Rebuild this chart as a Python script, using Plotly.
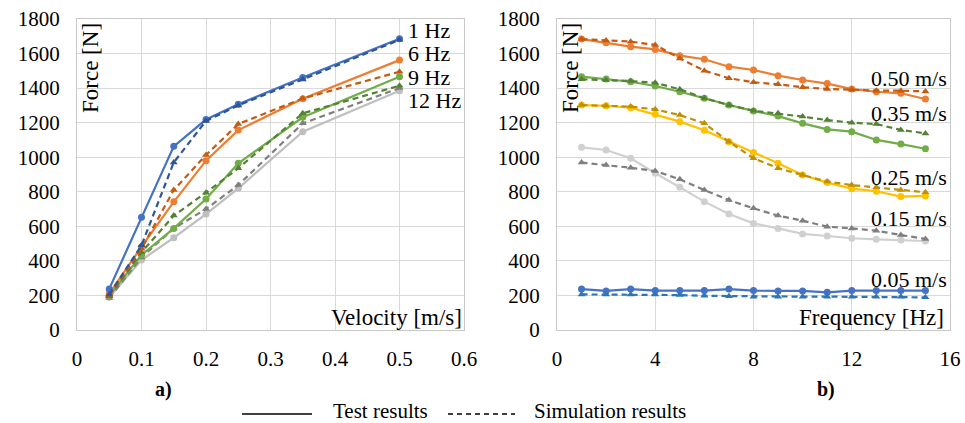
import plotly.graph_objects as go

W, H = 965, 423

# ---------------- data: left panel (force vs velocity) ----------------
velocity = [0.05, 0.1, 0.15, 0.2, 0.25, 0.35, 0.5]
hz1_test = [238, 652, 1063, 1218, 1306, 1461, 1686]
hz1_sim = [205, 490, 970, 1210, 1300, 1450, 1680]
hz6_test = [210, 482, 742, 980, 1157, 1339, 1562]
hz6_sim = [200, 470, 810, 1013, 1192, 1340, 1495]
hz9_test = [200, 434, 588, 758, 965, 1231, 1466]
hz9_sim = [195, 450, 662, 795, 936, 1254, 1414]
hz12_test = [190, 405, 534, 671, 820, 1148, 1385]
hz12_sim = [185, 420, 588, 700, 839, 1196, 1400]
left_labels = ["1 Hz", "6 Hz", "9 Hz", "12 Hz"]

# ---------------- data: right panel (force vs frequency) ----------------
frequency = list(range(1, 16))
v050_test = [1684, 1663, 1640, 1624, 1588, 1567, 1524, 1505, 1472, 1447, 1426, 1395, 1379, 1370, 1337]
v050_sim = [1684, 1675, 1669, 1650, 1572, 1501, 1457, 1434, 1422, 1405, 1395, 1391, 1385, 1385, 1381]
v035_test = [1466, 1453, 1437, 1412, 1379, 1341, 1302, 1268, 1238, 1196, 1161, 1148, 1100, 1076, 1049]
v035_sim = [1451, 1447, 1441, 1431, 1393, 1341, 1302, 1269, 1254, 1235, 1215, 1200, 1192, 1158, 1138]
v025_test = [1302, 1298, 1287, 1248, 1206, 1156, 1090, 1028, 965, 897, 853, 818, 803, 772, 776]
v025_sim = [1302, 1298, 1293, 1277, 1244, 1196, 1090, 994, 936, 897, 859, 839, 826, 810, 797]
v015_test = [1057, 1042, 994, 907, 826, 743, 671, 617, 588, 556, 544, 531, 525, 521, 515]
v015_sim = [969, 955, 939, 920, 872, 810, 752, 704, 662, 633, 598, 588, 575, 550, 527]
v005_test = [237, 226, 237, 228, 228, 228, 237, 228, 226, 226, 218, 228, 228, 228, 228]
v005_sim = [206, 206, 206, 206, 202, 198, 196, 193, 193, 193, 193, 193, 193, 193, 189]
right_labels = ["0.50 m/s", "0.35 m/s", "0.25 m/s", "0.15 m/s", "0.05 m/s"]

x_ticks_left = [0, 0.1, 0.2, 0.3, 0.4, 0.5, 0.6]
x_ticks_right = [0, 4, 8, 12, 16]
y_ticks = list(range(0, 1801, 200))

FONT = "Liberation Serif, Times New Roman, DejaVu Serif, serif"


def px(x):
    return x / W


def py(y):
    return 1 - y / H


fig = go.Figure()


def add_pair(x, test, sim, c_test, c_sim, xa, ya):
    fig.add_trace(go.Scatter(x=x, y=test, mode="lines+markers", xaxis=xa, yaxis=ya,
                             line=dict(color=c_test, width=2.2),
                             marker=dict(symbol="circle", size=7, color=c_test),
                             showlegend=False, cliponaxis=False))
    fig.add_trace(go.Scatter(x=x, y=sim, mode="lines+markers", xaxis=xa, yaxis=ya,
                             line=dict(color=c_sim, width=2.2, dash="6px,4px"),
                             marker=dict(symbol="triangle-up", size=7, color=c_sim),
                             showlegend=False, cliponaxis=False))


# left panel (draw order so that blue is on top)
add_pair(velocity, hz12_test, hz12_sim, "#BFBFBF", "#7F7F7F", "x", "y")
add_pair(velocity, hz9_test, hz9_sim, "#70AD47", "#548235", "x", "y")
add_pair(velocity, hz6_test, hz6_sim, "#ED7D31", "#C55A11", "x", "y")
add_pair(velocity, hz1_test, hz1_sim, "#4472C4", "#2F5597", "x", "y")

# right panel
add_pair(frequency, v005_test, v005_sim, "#4472C4", "#2E75B6", "x2", "y2")
add_pair(frequency, v015_test, v015_sim, "#D0D0D0", "#7F7F7F", "x2", "y2")
add_pair(frequency, v025_test, v025_sim, "#FFC000", "#BF9000", "x2", "y2")
add_pair(frequency, v035_test, v035_sim, "#70AD47", "#548235", "x2", "y2")
add_pair(frequency, v050_test, v050_sim, "#ED7D31", "#C55A11", "x2", "y2")

ydom = [py(330), py(19)]
axis_common = dict(showgrid=True, gridcolor="#D9D9D9", gridwidth=1,
                   showline=True, linecolor="#C8C8C8", linewidth=1, mirror=True,
                   zeroline=False, ticks="", automargin=False,
                   tickfont=dict(family=FONT, size=21, color="#000000"))

fig.update_layout(
    width=W, height=H, autosize=False,
    margin=dict(l=0, r=0, t=0, b=0, pad=0, autoexpand=False),
    paper_bgcolor="white", plot_bgcolor="white",
    showlegend=False,
    xaxis=dict(domain=[px(77), px(464)], range=[0, 0.6], tickvals=x_ticks_left,
               ticktext=[("%g" % v) for v in x_ticks_left], anchor="y",
               ticklabelstandoff=10, **axis_common),
    yaxis=dict(domain=ydom, range=[0, 1800], tickvals=y_ticks, anchor="x",
               ticklabelstandoff=12, **axis_common),
    xaxis2=dict(domain=[px(557), px(950)], range=[0, 16], tickvals=x_ticks_right, anchor="y2",
                ticklabelstandoff=10, **axis_common),
    yaxis2=dict(domain=ydom, range=[0, 1800], tickvals=y_ticks, anchor="x2",
                ticklabelstandoff=12, **axis_common),
)

ann = []
tf = dict(family=FONT, size=23, color="#000000")
sf = dict(family=FONT, size=22, color="#000000")
# axis titles inside plots
ann.append(dict(text="Force [N]", x=px(90), y=py(68), xref="paper", yref="paper",
                textangle=-90, showarrow=False, font=tf, xanchor="center", yanchor="middle"))
ann.append(dict(text="Force [N]", x=px(570), y=py(68), xref="paper", yref="paper",
                textangle=-90, showarrow=False, font=tf, xanchor="center", yanchor="middle"))
ann.append(dict(text="Velocity [m/s]", x=px(464), y=py(317), xref="paper", yref="paper",
                showarrow=False, font=tf, xanchor="right", yanchor="middle"))
ann.append(dict(text="Frequency [Hz]", x=px(946), y=py(317), xref="paper", yref="paper",
                showarrow=False, font=tf, xanchor="right", yanchor="middle"))
# series labels left
for lab, yy in zip(left_labels, [31, 54, 77, 100]):
    ann.append(dict(text=lab, x=px(406), y=py(yy), xref="paper", yref="paper",
                    showarrow=False, font=sf, xanchor="left", yanchor="middle"))
# series labels right
for lab, yy in zip(right_labels, [79, 113, 177, 218, 279]):
    ann.append(dict(text=lab, x=px(949), y=py(yy), xref="paper", yref="paper",
                    showarrow=False, font=sf, xanchor="right", yanchor="middle"))
# panel letters
bf = dict(family=FONT, size=20, color="#000000")
ann.append(dict(text="<b>a)</b>", x=px(163), y=py(389), xref="paper", yref="paper",
                showarrow=False, font=bf, xanchor="center", yanchor="middle"))
ann.append(dict(text="<b>b)</b>", x=px(826), y=py(389), xref="paper", yref="paper",
                showarrow=False, font=bf, xanchor="center", yanchor="middle"))
# legend
lf = dict(family=FONT, size=21, color="#000000")
ann.append(dict(text="Test results", x=px(331), y=py(411), xref="paper", yref="paper",
                showarrow=False, font=lf, xanchor="left", yanchor="middle"))
ann.append(dict(text="Simulation results", x=px(532), y=py(411), xref="paper", yref="paper",
                showarrow=False, font=lf, xanchor="left", yanchor="middle"))
fig.update_layout(annotations=ann)

fig.add_shape(type="line", xref="paper", yref="paper", x0=px(242), x1=px(312),
              y0=py(414), y1=py(414), line=dict(color="#000000", width=1.3))
fig.add_shape(type="line", xref="paper", yref="paper", x0=px(448), x1=px(515),
              y0=py(414), y1=py(414), line=dict(color="#000000", width=1.3, dash="5px,4px"))

fig.write_html("out.html")
